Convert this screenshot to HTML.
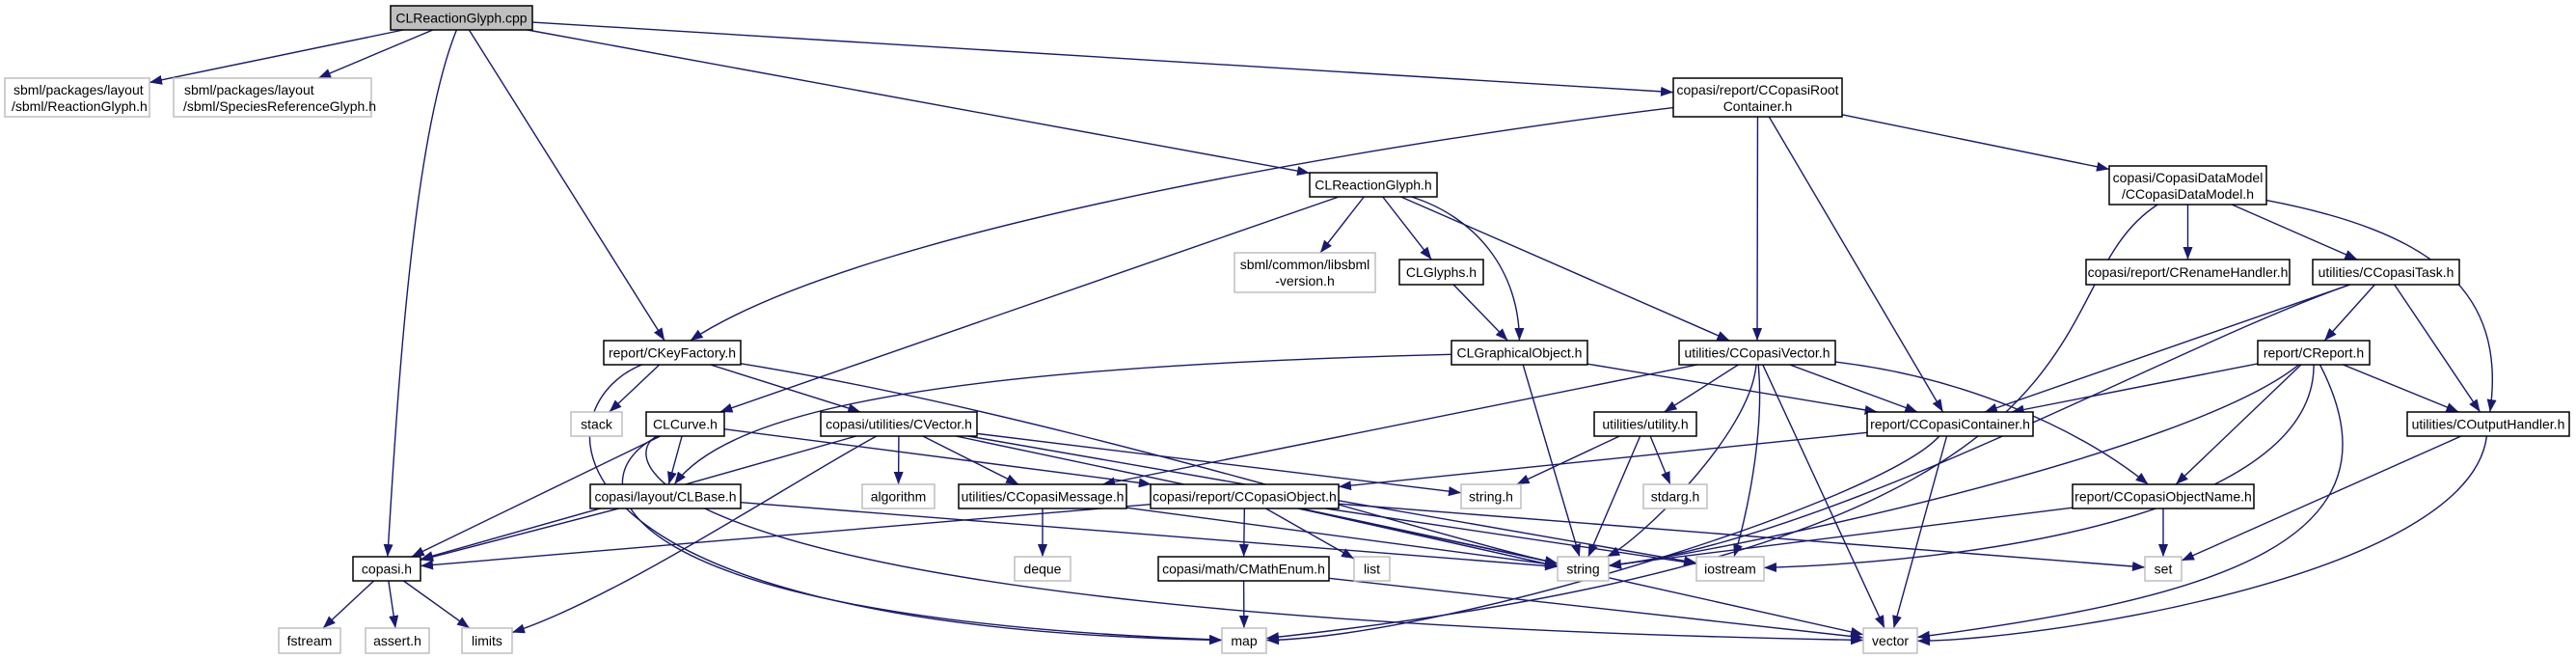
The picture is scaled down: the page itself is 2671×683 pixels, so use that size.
<!DOCTYPE html>
<html><head><meta charset="utf-8"><style>
html,body{margin:0;padding:0;background:#fff;width:2671px;height:683px;overflow:hidden}
svg text{font-family:"Liberation Sans",sans-serif;font-size:14px;fill:#000}
</style></head><body>
<svg id="s" width="2671" height="683" viewBox="0 0 2671 683" xmlns="http://www.w3.org/2000/svg">
<defs><marker id="a" markerUnits="userSpaceOnUse" markerWidth="14" markerHeight="10" refX="13" refY="5" orient="auto"><path d="M0,0 L13,5 L0,10 z" fill="#191970"/></marker></defs>
<g id="edges"></g>
<g id="nodes">
<rect x="405" y="6" width="147" height="25" fill="#bfbfbf" stroke="#000" stroke-width="1.5"/><text x="478.5" y="23.5" text-anchor="middle">CLReactionGlyph.cpp</text>
<rect x="5" y="81" width="150" height="40" fill="#fff" stroke="#bfbfbf" stroke-width="1.5"/><text x="14" y="98">sbml/packages/layout</text><text x="12" y="115">/sbml/ReactionGlyph.h</text>
<rect x="180" y="81" width="205" height="40" fill="#fff" stroke="#bfbfbf" stroke-width="1.5"/><text x="191" y="98">sbml/packages/layout</text><text x="190" y="115">/sbml/SpeciesReferenceGlyph.h</text>
<rect x="1735" y="81" width="175" height="40" fill="#fff" stroke="#000" stroke-width="1.5"/><text x="1822.5" y="98" text-anchor="middle">copasi/report/CCopasiRoot</text><text x="1822.5" y="115" text-anchor="middle">Container.h</text>
<rect x="1358" y="179" width="132" height="25" fill="#fff" stroke="#000" stroke-width="1.5"/><text x="1424" y="196.5" text-anchor="middle">CLReactionGlyph.h</text>
<rect x="1280" y="262" width="146" height="41" fill="#fff" stroke="#bfbfbf" stroke-width="1.5"/><text x="1353" y="279" text-anchor="middle">sbml/common/libsbml</text><text x="1353" y="296" text-anchor="middle">-version.h</text>
<rect x="1451" y="269" width="87" height="26" fill="#fff" stroke="#000" stroke-width="1.5"/><text x="1494.5" y="287" text-anchor="middle">CLGlyphs.h</text>
<rect x="2187" y="172" width="163" height="40" fill="#fff" stroke="#000" stroke-width="1.5"/><text x="2268.5" y="189" text-anchor="middle">copasi/CopasiDataModel</text><text x="2268.5" y="206" text-anchor="middle">/CCopasiDataModel.h</text>
<rect x="2163" y="269" width="211" height="26" fill="#fff" stroke="#000" stroke-width="1.5"/><text x="2268.5" y="287" text-anchor="middle">copasi/report/CRenameHandler.h</text>
<rect x="2398" y="269" width="152" height="26" fill="#fff" stroke="#000" stroke-width="1.5"/><text x="2474" y="287" text-anchor="middle">utilities/CCopasiTask.h</text>
<rect x="626" y="353" width="142" height="25" fill="#fff" stroke="#000" stroke-width="1.5"/><text x="697" y="370.5" text-anchor="middle">report/CKeyFactory.h</text>
<rect x="1505" y="353" width="141" height="25" fill="#fff" stroke="#000" stroke-width="1.5"/><text x="1575.5" y="370.5" text-anchor="middle">CLGraphicalObject.h</text>
<rect x="1741" y="353" width="162" height="25" fill="#fff" stroke="#000" stroke-width="1.5"/><text x="1822" y="370.5" text-anchor="middle">utilities/CCopasiVector.h</text>
<rect x="2341" y="353" width="116" height="25" fill="#fff" stroke="#000" stroke-width="1.5"/><text x="2399" y="370.5" text-anchor="middle">report/CReport.h</text>
<rect x="592" y="427" width="53" height="25" fill="#fff" stroke="#bfbfbf" stroke-width="1.5"/><text x="618.5" y="444.5" text-anchor="middle">stack</text>
<rect x="670" y="427" width="81" height="25" fill="#fff" stroke="#000" stroke-width="1.5"/><text x="710.5" y="444.5" text-anchor="middle">CLCurve.h</text>
<rect x="851" y="427" width="162" height="25" fill="#fff" stroke="#000" stroke-width="1.5"/><text x="932" y="444.5" text-anchor="middle">copasi/utilities/CVector.h</text>
<rect x="1653" y="427" width="106" height="25" fill="#fff" stroke="#000" stroke-width="1.5"/><text x="1706" y="444.5" text-anchor="middle">utilities/utility.h</text>
<rect x="1936" y="427" width="172" height="25" fill="#fff" stroke="#000" stroke-width="1.5"/><text x="2022" y="444.5" text-anchor="middle">report/CCopasiContainer.h</text>
<rect x="2496" y="427" width="168" height="25" fill="#fff" stroke="#000" stroke-width="1.5"/><text x="2580" y="444.5" text-anchor="middle">utilities/COutputHandler.h</text>
<rect x="612" y="502" width="156" height="25" fill="#fff" stroke="#000" stroke-width="1.5"/><text x="690" y="519.5" text-anchor="middle">copasi/layout/CLBase.h</text>
<rect x="894" y="502" width="75" height="25" fill="#fff" stroke="#bfbfbf" stroke-width="1.5"/><text x="931.5" y="519.5" text-anchor="middle">algorithm</text>
<rect x="994" y="502" width="174" height="25" fill="#fff" stroke="#000" stroke-width="1.5"/><text x="1081" y="519.5" text-anchor="middle">utilities/CCopasiMessage.h</text>
<rect x="1193" y="502" width="195" height="25" fill="#fff" stroke="#000" stroke-width="1.5"/><text x="1290.5" y="519.5" text-anchor="middle">copasi/report/CCopasiObject.h</text>
<rect x="1515" y="502" width="62" height="25" fill="#fff" stroke="#bfbfbf" stroke-width="1.5"/><text x="1546" y="519.5" text-anchor="middle">string.h</text>
<rect x="1704" y="502" width="66" height="25" fill="#fff" stroke="#bfbfbf" stroke-width="1.5"/><text x="1737" y="519.5" text-anchor="middle">stdarg.h</text>
<rect x="2149" y="502" width="188" height="25" fill="#fff" stroke="#000" stroke-width="1.5"/><text x="2243" y="519.5" text-anchor="middle">report/CCopasiObjectName.h</text>
<rect x="366" y="577" width="70" height="25" fill="#fff" stroke="#000" stroke-width="1.5"/><text x="401" y="594.5" text-anchor="middle">copasi.h</text>
<rect x="1052" y="577" width="58" height="25" fill="#fff" stroke="#bfbfbf" stroke-width="1.5"/><text x="1081" y="594.5" text-anchor="middle">deque</text>
<rect x="1201" y="577" width="177" height="25" fill="#fff" stroke="#000" stroke-width="1.5"/><text x="1289.5" y="594.5" text-anchor="middle">copasi/math/CMathEnum.h</text>
<rect x="1404" y="577" width="37" height="25" fill="#fff" stroke="#bfbfbf" stroke-width="1.5"/><text x="1422.5" y="594.5" text-anchor="middle">list</text>
<rect x="1615" y="577" width="53" height="25" fill="#fff" stroke="#bfbfbf" stroke-width="1.5"/><text x="1641.5" y="594.5" text-anchor="middle">string</text>
<rect x="1759" y="577" width="70" height="25" fill="#fff" stroke="#bfbfbf" stroke-width="1.5"/><text x="1794" y="594.5" text-anchor="middle">iostream</text>
<rect x="2224" y="577" width="38" height="25" fill="#fff" stroke="#bfbfbf" stroke-width="1.5"/><text x="2243" y="594.5" text-anchor="middle">set</text>
<rect x="289" y="651" width="64" height="26" fill="#fff" stroke="#bfbfbf" stroke-width="1.5"/><text x="321" y="669" text-anchor="middle">fstream</text>
<rect x="379" y="651" width="66" height="26" fill="#fff" stroke="#bfbfbf" stroke-width="1.5"/><text x="412" y="669" text-anchor="middle">assert.h</text>
<rect x="479" y="651" width="52" height="26" fill="#fff" stroke="#bfbfbf" stroke-width="1.5"/><text x="505" y="669" text-anchor="middle">limits</text>
<rect x="1267" y="651" width="46" height="26" fill="#fff" stroke="#bfbfbf" stroke-width="1.5"/><text x="1290" y="669" text-anchor="middle">map</text>
<rect x="1932" y="651" width="56" height="26" fill="#fff" stroke="#bfbfbf" stroke-width="1.5"/><text x="1960" y="669" text-anchor="middle">vector</text>
</g>
</svg>
<script>
var N={cpp:[405,552,6,31],RG:[5,155,81,121],SRG:[180,385,81,121],Root:[1735,1910,81,121],CLRG:[1358,1490,179,204],lib:[1280,1426,262,303],Gly:[1451,1538,269,295],DM:[2187,2350,172,212],Ren:[2163,2374,269,295],Task:[2398,2550,269,295],KF:[626,768,353,378],GO:[1505,1646,353,378],CV:[1741,1903,353,378],Rep:[2341,2457,353,378],stack:[592,645,427,452],Curve:[670,751,427,452],Vec:[851,1013,427,452],util:[1653,1759,427,452],Cont:[1936,2108,427,452],OH:[2496,2664,427,452],Base:[612,768,502,527],alg:[894,969,502,527],Msg:[994,1168,502,527],Obj:[1193,1388,502,527],strh:[1515,1577,502,527],stdarg:[1704,1770,502,527],ON:[2149,2337,502,527],copasi:[366,436,577,602],deque:[1052,1110,577,602],ME:[1201,1378,577,602],list:[1404,1441,577,602],string:[1615,1668,577,602],ios:[1759,1829,577,602],set:[2224,2262,577,602],fstream:[289,353,651,677],assert:[379,445,651,677],limits:[479,531,651,677],map:[1267,1313,651,677],vector:[1932,1988,651,677]};
var E=[
['cpp','RG'],['cpp','SRG'],['cpp','copasi',[425,150],[410,450]],['cpp','KF'],['cpp','CLRG'],['cpp','Root'],
['Root','KF',[1500,140],[900,230]],['Root','CV'],['Root','Cont'],['Root','DM'],
['CLRG','Curve'],['CLRG','lib'],['CLRG','Gly'],['CLRG','GO',[1530,225],[1575,280]],['CLRG','CV'],
['Gly','GO'],
['KF','stack'],['KF','Vec'],['KF','map',[560,420],[540,650]],['KF','string',[1100,430],[1500,560]],
['GO','Base',[1000,380],[760,420]],['GO','Cont'],['GO','string'],
['CV','util'],['CV','Cont'],['CV','ON',[2030,390],[2150,440]],['CV','Msg'],['CV','string',[1815,450],[1700,560]],['CV','ios',[1830,450],[1810,540]],['CV','vector'],
['DM','Ren'],['DM','Task'],['DM','OH',[2520,240],[2600,300]],['DM','map',[2100,300],[2250,560]],
['Task','Cont'],['Task','Rep'],['Task','OH'],['Task','string',[2250,360],[1900,560]],
['Rep','Cont'],['Rep','ON'],['Rep','OH'],['Rep','string',[2270,470],[1800,570]],['Rep','ios',[2400,520],[2100,580]],['Rep','vector',[2500,560],[2300,620]],
['Curve','Base'],['Curve','copasi'],['Curve','map',[600,490],[600,640]],['Curve','vector',[640,470],[640,640]],['Curve','Obj'],
['Vec','alg'],['Vec','Msg'],['Vec','copasi'],['Vec','limits',[820,500],[640,620]],['Vec','strh'],['Vec','ios'],['Vec','string'],
['util','strh'],['util','string'],['util','stdarg'],
['Cont','Obj'],['Cont','map',[1950,520],[1500,660]],['Cont','vector'],
['Base','copasi'],['Base','string'],
['OH','set'],['OH','vector',[2560,600],[2100,665]],
['Msg','deque'],['Msg','string'],
['Obj','copasi'],['Obj','ME'],['Obj','list'],['Obj','string'],['Obj','ios'],['Obj','set'],['Obj','vector'],
['ON','set'],['ON','string'],
['ME','map'],['ME','vector'],
['copasi','fstream'],['copasi','assert'],['copasi','limits']];
function ctr(b){return [(b[0]+b[1])/2,(b[2]+b[3])/2]}
function clip(b,p){var c=ctr(b),dx=p[0]-c[0],dy=p[1]-c[1],hw=(b[1]-b[0])/2,hh=(b[3]-b[2])/2;
var t=Math.min(dx?hw/Math.abs(dx):1e9,dy?hh/Math.abs(dy):1e9);return [c[0]+dx*t,c[1]+dy*t]}
var g=document.getElementById('edges'),h='';
E.forEach(function(e){var a=N[e[0]],b=N[e[1]],d;
if(e[2]){var s=clip(a,e[2]),t=clip(b,e[3]);d='M'+s+' C'+e[2]+' '+e[3]+' '+t;}
else{var s=clip(a,ctr(b)),t=clip(b,ctr(a));d='M'+s+' L'+t;}
h+='<path d="'+d+'" fill="none" stroke="#191970" stroke-width="1.4" marker-end="url(#a)"/>';});
g.innerHTML=h;
</script>
</body></html>
